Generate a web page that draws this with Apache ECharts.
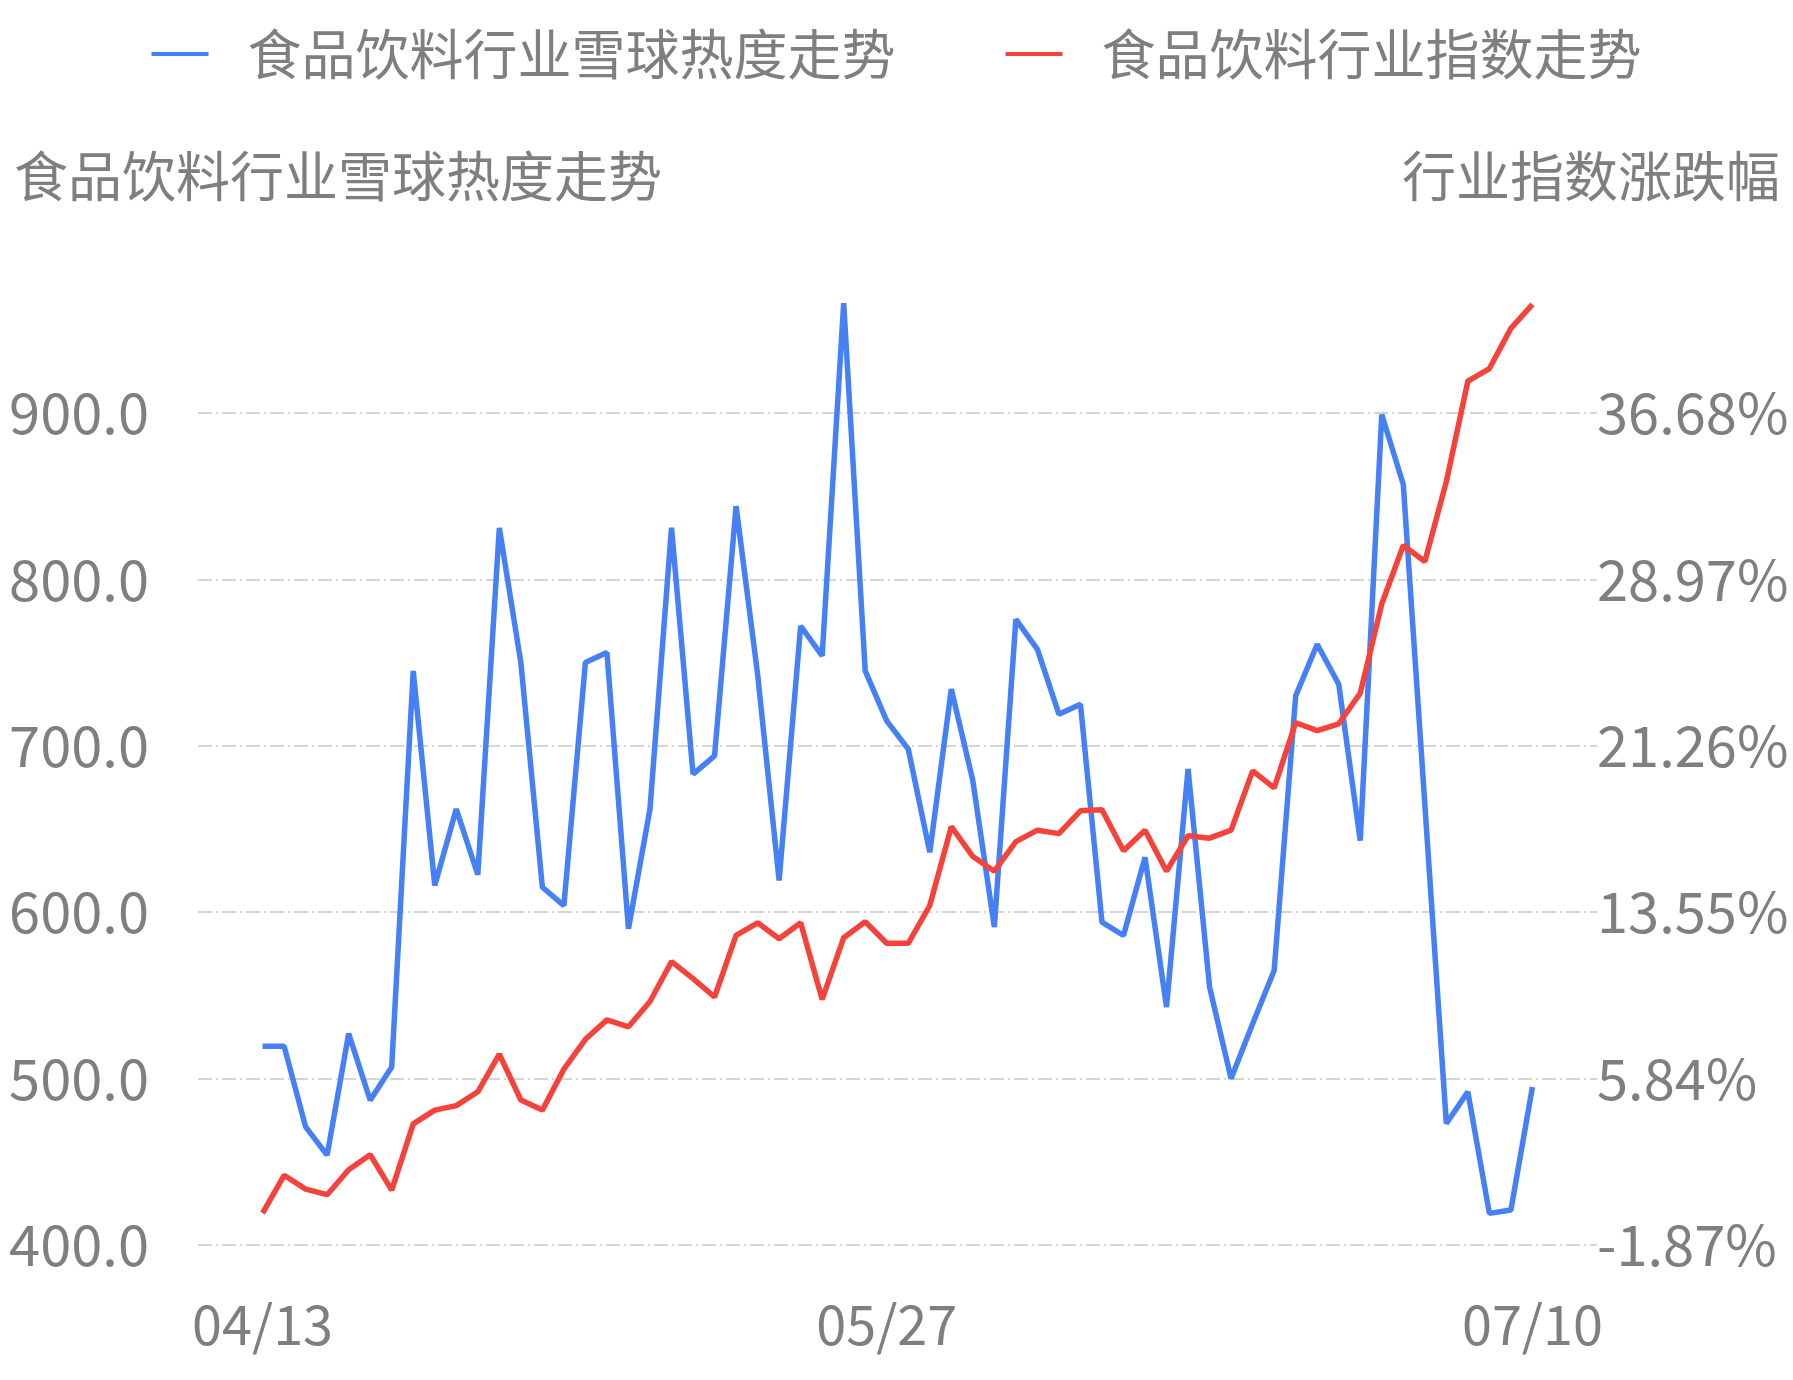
<!DOCTYPE html>
<html><head><meta charset="utf-8">
<script src="https://cdn.jsdelivr.net/npm/echarts@6/dist/echarts.min.js"></script>
<style>html,body{margin:0;padding:0;background:#fff}#c{width:1793px;height:1380px}</style>
</head><body><div id="c"></div>
<script>
const categories = ["","","","04/13","04/14","04/15","04/17","04/18","04/19","04/20","04/21","04/24","04/25","04/26","04/27","04/28","05/02","05/03","05/04","05/05","05/08","05/09","05/10","05/11","05/12","05/15","05/16","05/17","05/18","05/19","05/22","05/23","05/27",
"05/28","05/29","05/30","05/31","06/01","06/02","06/05","06/06","06/07","06/08","06/09","06/12","06/13","06/14","06/15","06/16","06/19","06/20","06/21","06/22","06/26","06/27","06/28","06/29","06/30","07/03","07/04","07/05","07/06","07/10","","",""];
const heatValues = [null,null,null,519.5,519.5,471,454,527,487,507,745,616,662,622.5,831,750,615,604,750,756,590,662,831,683,694,844,743,619,772,754,966,745,715,
698,636,734,679,591,776,758,719,725,594,586,633,543,686,555,500,533,565,730,761,737,643,899,857,665,473,492,419,421,495,null,null,null];
const indexValues = [null,null,null,-0.39,1.36,0.72,0.46,1.62,2.31,0.67,3.74,4.38,4.59,5.23,6.97,4.85,4.38,6.28,7.66,8.56,8.24,9.41,11.26,10.47,9.62,12.48,13.06,12.32,13.06,9.51,12.37,13.11,12.11,
12.11,13.86,17.51,16.13,15.45,16.82,17.35,17.19,18.25,18.30,16.40,17.35,15.45,17.09,16.98,17.35,20.10,19.31,22.33,21.96,22.28,23.70,27.84,30.54,29.80,33.50,38.16,38.74,40.60,41.71,null,null,null];
const leftTicks = [400,500,600,700,800,900];
const rightTicks = [-1.87,5.84,13.55,21.26,28.97,36.68];
const names = ["食品饮料行业雪球热度走势","食品饮料行业指数走势"];
const shownLabels = [3,32,62];

const chart = echarts.init(document.getElementById('c'));
const grey = '#7f7f7f';
const font = 'Noto Sans CJK SC';
chart.setOption({
  animation:false,
  textStyle:{fontFamily:font},
  legend:{top:22,left:'center',itemWidth:57,itemHeight:4,itemGap:110,
    icon:'rect',
    textStyle:{fontSize:54,color:grey,fontFamily:font,padding:[0,0,0,34]},data:names},
  grid:{left:198,right:196,top:413,bottom:135},
  xAxis:{type:'category',data:categories,boundaryGap:false,
    axisLine:{show:false},axisTick:{show:false},
    axisLabel:{fontSize:54,color:grey,margin:52,interval:(i)=>shownLabels.includes(i)}},
  yAxis:[
    {type:'value',min:leftTicks[0],max:leftTicks[5],interval:100,
     name:names[0],nameLocation:'end',nameGap:210,
     nameTextStyle:{fontSize:54,color:grey,align:'left',padding:[0,0,0,-184]},
     axisLabel:{fontSize:56,color:grey,formatter:v=>v.toFixed(1),margin:49},
     axisLine:{show:false},axisTick:{show:false},
     splitLine:{lineStyle:{color:'#c8c8c8',type:[14,4,2,4],width:1.5}}},
    {type:'value',min:rightTicks[0],max:rightTicks[5],interval:7.71,
     name:'行业指数涨跌幅',nameLocation:'end',nameGap:210,
     nameTextStyle:{fontSize:54,color:grey,align:'right',padding:[0,-183,0,0]},
     axisLabel:{fontSize:56,color:grey,formatter:v=>v.toFixed(2)+'%',margin:0},
     axisLine:{show:false},axisTick:{show:false},splitLine:{show:false}}
  ],
  series:[
    {name:names[0],type:'line',data:heatValues,yAxisIndex:0,showSymbol:false,clip:false,
     lineStyle:{width:5.5,color:'#4680f7'},itemStyle:{color:'#4680f7'}},
    {name:names[1],type:'line',data:indexValues,yAxisIndex:1,showSymbol:false,clip:false,
     lineStyle:{width:5.5,color:'#f5423a'},itemStyle:{color:'#f5423a'}}
  ]
});
</script></body></html>
